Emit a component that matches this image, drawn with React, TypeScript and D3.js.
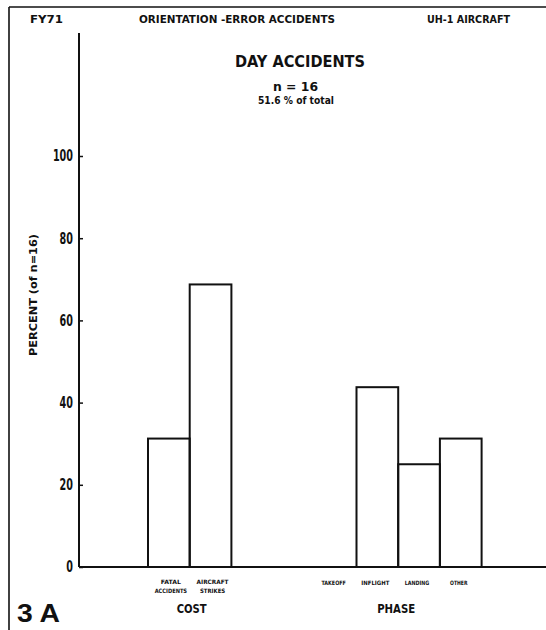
import { useEffect, useRef } from 'react';
import * as d3 from 'd3';

// slots along the baseline; the two gap slots keep COST and PHASE apart
const slots = ['fatal', 'aircraft', 'gap1', 'gap2', 'takeoff', 'inflight', 'landing', 'other'];
const costKeys = ['fatal', 'aircraft'];
const phaseKeys = ['takeoff', 'inflight', 'landing', 'other'];
const costValues = [31.25, 68.75];
const phaseValues = [0, 43.75, 25, 31.25];
const costLabels = [
  ['FATAL', 'ACCIDENTS'],
  ['AIRCRAFT', 'STRIKES'],
];
const phaseLabels = ['TAKEOFF', 'INFLIGHT', 'LANDING', 'OTHER'];
const yTicks = [0, 20, 40, 60, 80, 100];

const FONT = "'Liberation Sans Narrow', 'DejaVu Sans Condensed', 'Liberation Sans', sans-serif";

export default function App() {
  const svgRef = useRef<SVGSVGElement>(null);

  useEffect(() => {
    if (!svgRef.current) return;
    const svg = d3.select(svgRef.current);
    svg.selectAll('*').remove();

    const width = 546;
    const height = 630;
    const axisX = 79;

    svg.attr('width', width).attr('height', height);
    svg.append('rect').attr('width', width).attr('height', height).attr('fill', '#fff');

    // frame edges
    svg.append('line').attr('x1', 9).attr('x2', 9).attr('y1', 7).attr('y2', height)
      .attr('stroke', '#111').attr('stroke-width', 1.6);
    svg.append('line').attr('x1', 9).attr('x2', width).attr('y1', 7).attr('y2', 7)
      .attr('stroke', '#111').attr('stroke-width', 1.6);

    const x = d3.scaleBand<string>().domain(slots).range([148, 481.6]).padding(0);
    const y = d3.scaleLinear().domain([0, 100]).range([567, 156]);

    const txt = (
      s: string, cx: number, cy: number, size: number, len?: number,
      anchor = 'middle', family = FONT
    ) => {
      const t = svg.append('text')
        .attr('x', cx).attr('y', cy)
        .attr('text-anchor', anchor)
        .attr('font-family', family)
        .attr('font-weight', 'bold')
        .attr('font-size', size)
        .attr('fill', '#111')
        .text(s);
      if (len) t.attr('textLength', len).attr('lengthAdjust', 'spacingAndGlyphs');
      return t;
    };

    // header
    txt('FY71', 46.5, 23, 11, 33);
    txt('ORIENTATION -ERROR ACCIDENTS', 237, 23, 10, 196);
    txt('UH-1 AIRCRAFT', 468.5, 23, 11, 83);
    txt('DAY ACCIDENTS', 300, 67, 16, 130);
    txt('n = 16', 295.5, 91, 12, 45);
    txt('51.6 % of total', 296, 104, 10, 76);

    // y axis, ticks point inward
    const yAxis = d3.axisLeft(y).tickValues(yTicks).tickSizeInner(-4).tickSizeOuter(0).tickPadding(6);
    const ga = svg.append('g').attr('transform', `translate(${axisX},0)`).call(yAxis);
    ga.select('.domain').remove();
    ga.selectAll('line').attr('stroke', '#111').attr('stroke-width', 1.5);
    ga.selectAll<SVGTextElement, number>('text')
      .attr('font-family', FONT)
      .attr('font-weight', 'bold')
      .attr('font-size', 15)
      .attr('fill', '#111')
      .attr('textLength', (d) => String(d).length * 6.7)
      .attr('lengthAdjust', 'spacingAndGlyphs');

    svg.append('line').attr('x1', axisX).attr('x2', axisX).attr('y1', 33).attr('y2', y(0))
      .attr('stroke', '#111').attr('stroke-width', 2);
    svg.append('line').attr('x1', axisX).attr('x2', width).attr('y1', y(0)).attr('y2', y(0))
      .attr('stroke', '#111').attr('stroke-width', 2);

    txt('PERCENT (of n=16)', 0, 0, 10, 122)
      .attr('transform', `translate(37,295) rotate(-90)`);

    // bars
    const bars = [
      ...costKeys.map((k, i) => ({ key: k, value: costValues[i] })),
      ...phaseKeys.map((k, i) => ({ key: k, value: phaseValues[i] })),
    ].filter((d) => d.value > 0);

    svg.selectAll('.bar')
      .data(bars)
      .enter()
      .append('rect')
      .attr('class', 'bar')
      .attr('x', (d) => x(d.key) || 0)
      .attr('y', (d) => y(d.value))
      .attr('width', x.bandwidth())
      .attr('height', (d) => y(0) - y(d.value))
      .attr('fill', 'none')
      .attr('stroke', '#111')
      .attr('stroke-width', 2);

    // category labels
    costKeys.forEach((k, i) => {
      const cx = (x(k) || 0) + x.bandwidth() / 2 + 2;
      txt(costLabels[i][0], cx, 584, 6, costLabels[i][0].length * 4);
      txt(costLabels[i][1], cx, 593, 6, costLabels[i][1].length * 3.6);
    });
    phaseKeys.forEach((k, i) => {
      const cx = (x(k) || 0) + x.bandwidth() / 2 - 2;
      txt(phaseLabels[i], cx, 585, 6, phaseLabels[i].length * 3.5);
    });

    const costMid = ((x('fatal') || 0) + (x('aircraft') || 0) + x.bandwidth()) / 2;
    const phaseMid = ((x('takeoff') || 0) + (x('other') || 0) + x.bandwidth()) / 2;
    txt('COST', costMid + 2, 613, 13, 30);
    txt('PHASE', phaseMid - 2, 613, 13, 38);

    txt('3 A', 17, 622, 26, 43, 'start', "'Liberation Sans', Arial, sans-serif");
  }, []);

  return (
    <svg ref={svgRef} style={{ position: 'absolute', left: 0, top: 0, display: 'block' }} />
  );
}
